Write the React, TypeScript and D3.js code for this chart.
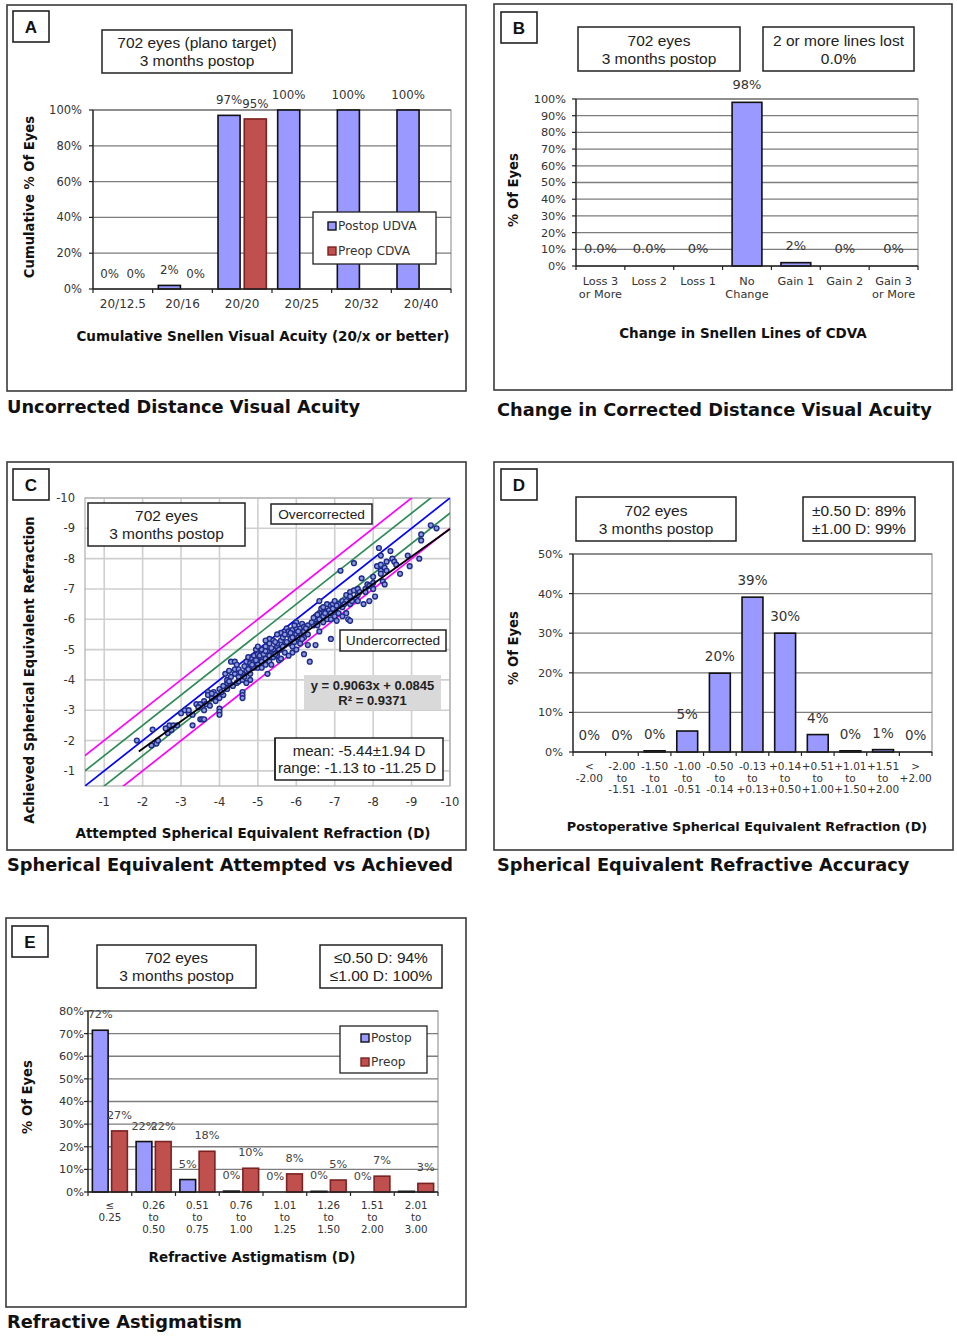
import React from "react";
import * as d3 from "d3";

const FV = "'DejaVu Sans', Verdana, sans-serif";
const FA = "'Liberation Sans', Arial, sans-serif";

const LAV = "#9999ff";
const RED = "#c0504d";
const RED_STROKE = "#7a2222";
const GRID = "#7d7d7d";
const TXT = "#333333";

// ---------- Panel A ----------
const aCategories = [["20/12.5"], ["20/16"], ["20/20"], ["20/25"], ["20/32"], ["20/40"]];
const aPostop: (number | null)[] = [0, 2, 97, 100, 100, 100];
const aPreop: (number | null)[] = [0, 0, 95, null, null, null];
const aPostopLabels: (string | null)[] = ["0%", "2%", "97%", "100%", "100%", "100%"];
const aPreopLabels: (string | null)[] = ["0%", "0%", "95%", null, null, null];
const aYTicks = [0, 20, 40, 60, 80, 100];

// ---------- Panel B ----------
const bCategories = [["Loss 3", "or More"], ["Loss 2"], ["Loss 1"], ["No", "Change"], ["Gain 1"], ["Gain 2"], ["Gain 3", "or More"]];
const bValues: (number | null)[] = [0, 0, 0, 98, 2, 0, 0];
const bLabels: (string | null)[] = ["0.0%", "0.0%", "0%", "98%", "2%", "0%", "0%"];
const bYTicks = [0, 10, 20, 30, 40, 50, 60, 70, 80, 90, 100];

// ---------- Panel C ----------
const cTicks = [-1, -2, -3, -4, -5, -6, -7, -8, -9, -10];
const cFitSlope = 0.9063;
const cFitIntercept = 0.0845;
const cFitRange = [-1.9, -10];
const cRefLines = [
  { offset: -1, color: "#ff00ff" },
  { offset: -0.5, color: "#2e8b57" },
  { offset: 0, color: "#0000ff" },
  { offset: 0.5, color: "#2e8b57" },
  { offset: 1, color: "#ff00ff" },
];
const cPoints: [number, number][] = [
  [-1.85, -2.0], [-2.26, -2.36], [-2.23, -1.84], [-2.36, -1.9], [-2.4, -2.0], [-2.6, -2.4], [-2.65, -2.25],
  [-2.7, -2.5], [-2.8, -2.5], [-2.9, -2.5], [-2.75, -2.35], [-3.0, -2.9], [-3.1, -3.0], [-3.2, -2.9],
  [-3.2, -3.0], [-3.3, -2.5], [-3.3, -2.85], [-3.4, -3.2], [-3.5, -2.7], [-3.5, -3.2], [-3.55, -2.7],
  [-3.6, -2.7], [-3.6, -3.3], [-3.6, -3.0], [-3.65, -3.2], [-3.7, -3.6], [-3.7, -3.5], [-3.75, -3.15],
  [-3.8, -3.4], [-3.85, -3.6], [-3.9, -3.3], [-3.9, -3.5], [-4.0, -3.05], [-4.0, -2.95], [-4.0, -2.85],
  [-4.0, -3.7], [-4.0, -3.4], [-4.1, -3.8], [-4.1, -3.5], [-4.15, -4.2], [-4.2, -3.9], [-4.2, -4.0],
  [-4.2, -3.7], [-4.3, -4.6], [-4.3, -4.1], [-4.3, -3.85], [-4.35, -3.8], [-4.4, -4.6], [-4.4, -4.2],
  [-4.4, -4.35], [-4.45, -3.9], [-4.45, -4.5], [-4.5, -4.35], [-4.5, -4.1], [-4.5, -3.95], [-4.6, -3.6],
  [-4.6, -3.5], [-4.6, -3.4], [-4.6, -4.2], [-4.6, -4.0], [-4.7, -4.5], [-4.7, -4.3], [-4.7, -4.6],
  [-4.75, -4.75], [-4.8, -4.4], [-4.8, -4.55], [-4.8, -4.2], [-4.8, -4.0], [-4.85, -4.7], [-4.9, -4.8],
  [-4.9, -4.4], [-4.9, -4.6], [-4.95, -5.0], [-5.0, -4.5], [-5.0, -4.7], [-5.0, -4.85], [-5.0, -4.4],
  [-5.1, -4.7], [-5.1, -4.6], [-5.1, -4.9], [-5.1, -4.4], [-5.1, -5.0], [-5.2, -4.7], [-5.2, -5.1],
  [-5.2, -4.5], [-5.25, -4.95], [-5.25, -4.2], [-5.3, -5.35], [-5.3, -4.8], [-5.3, -4.6], [-5.3, -5.2],
  [-5.4, -4.9], [-5.4, -5.0], [-5.4, -4.75], [-5.4, -5.3], [-5.5, -4.8], [-5.5, -5.1], [-5.5, -4.9],
  [-5.5, -5.2], [-5.55, -4.65], [-5.6, -5.0], [-5.6, -5.3], [-5.6, -4.7], [-5.6, -5.55], [-5.65, -5.4],
  [-5.7, -5.15], [-5.7, -4.9], [-5.75, -5.7], [-5.8, -5.2], [-5.8, -5.5], [-5.8, -5.6], [-5.85, -5.35],
  [-5.9, -4.9], [-5.9, -5.4], [-5.9, -5.65], [-5.9, -5.1], [-6.0, -5.5], [-6.0, -5.7], [-6.0, -5.3],
  [-6.0, -5.0], [-6.0, -5.9], [-6.1, -5.7], [-6.1, -5.5], [-6.1, -5.2], [-6.15, -5.85], [-6.2, -5.75],
  [-6.2, -4.85], [-6.2, -5.6], [-6.2, -5.4], [-6.3, -5.8], [-6.3, -5.5], [-6.35, -4.6], [-6.45, -5.8],
  [-6.5, -5.15], [-6.5, -5.95], [-6.5, -6.0], [-6.5, -6.1], [-6.55, -5.8], [-6.6, -6.6], [-6.6, -5.6],
  [-6.6, -6.2], [-6.6, -6.0], [-6.65, -6.35], [-6.7, -6.1], [-6.7, -6.4], [-6.7, -5.9], [-6.8, -6.25],
  [-6.8, -6.0], [-6.8, -6.5], [-6.85, -6.3], [-6.9, -5.35], [-6.9, -6.2], [-6.9, -6.45], [-6.9, -6.0],
  [-6.95, -6.5], [-7.0, -6.6], [-7.0, -6.3], [-7.0, -6.1], [-7.05, -5.95], [-7.1, -6.5], [-7.1, -6.2],
  [-7.15, -7.6], [-7.2, -6.1], [-7.2, -6.4], [-7.2, -6.6], [-7.3, -6.8], [-7.3, -6.6], [-7.3, -6.2],
  [-7.35, -6.0], [-7.4, -6.9], [-7.4, -5.95], [-7.4, -6.75], [-7.4, -6.5], [-7.5, -6.95], [-7.5, -7.85],
  [-7.55, -6.7], [-7.6, -6.6], [-7.6, -6.8], [-7.6, -7.0], [-7.7, -7.35], [-7.75, -6.5], [-7.8, -7.0],
  [-7.8, -6.9], [-7.85, -7.15], [-7.9, -6.6], [-8.0, -7.0], [-8.0, -7.2], [-8.0, -7.4], [-8.05, -6.75],
  [-8.1, -7.75], [-8.15, -8.35], [-8.2, -7.8], [-8.2, -8.1], [-8.2, -7.6], [-8.2, -7.5], [-8.25, -7.25],
  [-8.3, -7.15], [-8.3, -7.7], [-8.35, -7.9], [-8.35, -7.6], [-8.45, -8.25], [-8.5, -8.0], [-8.55, -7.9],
  [-8.6, -7.8], [-8.7, -7.5], [-8.9, -8.1], [-8.95, -7.75], [-9.2, -8.0], [-9.25, -8.8], [-9.25, -8.6],
  [-9.5, -9.1], [-9.65, -9.0],
  [-4.25, -4.3], [-4.55, -4.25], [-4.65, -4.45], [-4.75, -4.35], [-4.85, -4.5], [-4.95, -4.65], [-5.05, -4.8],
  [-5.15, -4.85], [-5.2, -4.95], [-5.35, -5.05], [-5.45, -4.85], [-5.45, -5.25], [-5.55, -5.0], [-5.65, -5.1],
  [-5.7, -5.5], [-5.75, -5.25], [-5.85, -5.55], [-5.95, -5.25], [-6.05, -5.6], [-6.05, -5.4], [-6.15, -5.35],
  [-6.25, -5.7], [-6.4, -5.9], [-6.45, -6.05], [-6.55, -6.15], [-6.75, -6.2], [-6.95, -6.35], [-7.05, -6.45],
  [-7.25, -6.5], [-7.45, -6.6], [-7.65, -6.9], [-7.9, -7.1], [-3.45, -3.1], [-3.8, -3.55], [-4.05, -3.6],
  [-4.25, -3.95], [-4.65, -4.1], [-4.7, -3.9], [-5.35, -4.5], [-5.8, -4.8], [-6.3, -5.15], [-5.0, -5.1],
  [-5.2, -5.3], [-5.5, -5.5], [-5.95, -5.8],
];

// ---------- Panel D ----------
const dCategories = [
  ["<", "-2.00"], ["-2.00", "to", "-1.51"], ["-1.50", "to", "-1.01"], ["-1.00", "to", "-0.51"],
  ["-0.50", "to", "-0.14"], ["-0.13", "to", "+0.13"], ["+0.14", "to", "+0.50"], ["+0.51", "to", "+1.00"],
  ["+1.01", "to", "+1.50"], ["+1.51", "to", "+2.00"], [">", "+2.00"],
];
const dValues: (number | null)[] = [0, 0, 0.3, 5.3, 19.9, 39.1, 30, 4.4, 0.3, 0.6, 0];
const dLabels: (string | null)[] = ["0%", "0%", "0%", "5%", "20%", "39%", "30%", "4%", "0%", "1%", "0%"];
const dYTicks = [0, 10, 20, 30, 40, 50];

// ---------- Panel E ----------
const eCategories = [
  ["≤", "0.25"], ["0.26", "to", "0.50"], ["0.51", "to", "0.75"], ["0.76", "to", "1.00"],
  ["1.01", "to", "1.25"], ["1.26", "to", "1.50"], ["1.51", "to", "2.00"], ["2.01", "to", "3.00"],
];
const ePostop: (number | null)[] = [71.5, 22.3, 5.5, 0.4, 0, 0.3, 0, 0.3];
const ePreop: (number | null)[] = [27, 22.3, 18, 10.5, 8, 5.3, 7, 3.8];
const ePostopLabels: (string | null)[] = ["72%", "22%", "5%", "0%", "0%", "0%", "0%", null];
const ePreopLabels: (string | null)[] = ["27%", "22%", "18%", "10%", "8%", "5%", "7%", "3%"];
const eYTicks = [0, 10, 20, 30, 40, 50, 60, 70, 80];

type Series = { values: (number | null)[]; labels: (string | null)[]; fill: string; stroke: string };

type BarProps = {
  left: number; right: number; top: number; bottom: number;
  yMax: number; yTicks: number[]; categories: string[][];
  series: Series[]; barFrac: number; gapFrac: number;
  labelSize: number; labelOffset: number; labelColor: string;
  tickSize: number; tickRight: number; catSize: number; catBaseline: number; catLineH: number;
};

function BarChart(p: BarProps) {
  const x = d3.scaleBand<number>().domain(p.categories.map((_, i) => i)).range([p.left, p.right]).padding(0);
  const y = d3.scaleLinear().domain([0, p.yMax]).range([p.bottom, p.top]);
  const gw = x.bandwidth();
  const bw = gw * p.barFrac;
  const gap = gw * p.gapFrac;
  const n = p.series.length;
  const pairW = n * bw + (n - 1) * gap;
  const barX = (i: number, s: number) => (x(i) as number) + gw / 2 - pairW / 2 + s * (bw + gap);
  const bounds = d3.range(p.categories.length + 1).map((i) => p.left + i * gw);
  return (
    <g>
      <rect x={p.left} y={p.top} width={p.right - p.left} height={p.bottom - p.top} fill="#fff" stroke="#9a9a9a" strokeWidth={1.2} />
      {p.yTicks.filter((t) => t > 0).map((t) => (
        <line key={"g" + t} x1={p.left} x2={p.right} y1={y(t)} y2={y(t)} stroke={GRID} strokeWidth={1.3} />
      ))}
      {p.series.map((s, si) =>
        s.values.map((v, i) =>
          v != null && v > 0 ? (
            <rect key={`b${si}-${i}`} x={barX(i, si)} y={y(v)} width={bw} height={p.bottom - y(v)}
              fill={s.fill} stroke={s.stroke} strokeWidth={1.6} />
          ) : null
        )
      )}
      <line x1={p.left} x2={p.left} y1={p.top} y2={p.bottom} stroke="#222" strokeWidth={1.3} />
      <line x1={p.left} x2={p.right} y1={p.bottom} y2={p.bottom} stroke="#222" strokeWidth={1.3} />
      {p.yTicks.map((t) => (
        <g key={"t" + t}>
          <line x1={p.left - 4} x2={p.left} y1={y(t)} y2={y(t)} stroke="#222" strokeWidth={1.2} />
          <text x={p.tickRight} y={y(t)} dy="0.35em" textAnchor="end" fontFamily={FV} fontSize={p.tickSize} fill={TXT}>{t}%</text>
        </g>
      ))}
      {bounds.map((b, i) => (
        <line key={"xb" + i} x1={b} x2={b} y1={p.bottom} y2={p.bottom + 4} stroke="#222" strokeWidth={1.2} />
      ))}
      {p.categories.map((lines, i) => (
        <text key={"c" + i} x={(x(i) as number) + gw / 2} y={p.catBaseline} textAnchor="middle" fontFamily={FV} fontSize={p.catSize} fill={TXT}>
          {lines.map((l, li) => (
            <tspan key={li} x={(x(i) as number) + gw / 2} y={p.catBaseline + li * p.catLineH}>{l}</tspan>
          ))}
        </text>
      ))}
      {p.series.map((s, si) =>
        s.labels.map((l, i) =>
          l != null ? (
            <text key={`l${si}-${i}`} x={barX(i, si) + bw / 2} y={y(s.values[i] ?? 0) - p.labelOffset} textAnchor="middle"
              fontFamily={FV} fontSize={p.labelSize} fill={p.labelColor}>{l}</text>
          ) : null
        )
      )}
    </g>
  );
}

function Frame({ x, y, w, h, letter, lx, ly }: { x: number; y: number; w: number; h: number; letter: string; lx: number; ly: number }) {
  return (
    <g>
      <rect x={x} y={y} width={w} height={h} fill="#fff" stroke="#3a3a3a" strokeWidth={1.6} />
      <rect x={lx} y={ly} width={36} height={31} fill="#fff" stroke="#222" strokeWidth={1.6} />
      <text x={lx + 18} y={ly + 16} dy="0.36em" textAnchor="middle" fontFamily={FA} fontWeight="bold" fontSize={17} fill="#111">{letter}</text>
    </g>
  );
}

function TextBox({ x, y, w, h, lines, size = 15.5, fill = "#fff", bold = false, font = FA, cx, lineGap = 18 }: any) {
  const mid = cx ?? x + w / 2;
  const startY = y + h / 2 - ((lines.length - 1) * lineGap) / 2;
  return (
    <g>
      <rect x={x} y={y} width={w} height={h} fill={fill} stroke={fill === "#fff" ? "#222" : "none"} strokeWidth={1.5} />
      {lines.map((l: string, i: number) => (
        <text key={i} x={mid} y={startY + i * lineGap} dy="0.36em" textAnchor="middle" fontFamily={font}
          fontWeight={bold ? "bold" : "normal"} fontSize={size} fill="#222">{l}</text>
      ))}
    </g>
  );
}

function YTitle({ x, y, text, size = 13.2 }: { x: number; y: number; text: string; size?: number }) {
  return (
    <text transform={`translate(${x},${y}) rotate(-90)`} dy="0.36em" textAnchor="middle" fontFamily={FV} fontWeight="bold" fontSize={size} fill="#111">{text}</text>
  );
}

function XTitle({ x, y, text, size = 13.5 }: { x: number; y: number; text: string; size?: number }) {
  return <text x={x} y={y} textAnchor="middle" fontFamily={FV} fontWeight="bold" fontSize={size} fill="#111">{text}</text>;
}

function Caption({ x, y, text }: { x: number; y: number; text: string }) {
  return <text x={x} y={y} fontFamily={FV} fontWeight="bold" fontSize={17.8} fill="#111">{text}</text>;
}

function Legend({ x, y, w, h, items, swX, rowYs }: any) {
  return (
    <g>
      <rect x={x} y={y} width={w} height={h} fill="#fff" stroke="#222" strokeWidth={1.3} />
      {items.map((it: any, i: number) => (
        <g key={i}>
          <rect x={swX} y={rowYs[i] - 4} width={8} height={8} fill={it.fill} stroke={it.stroke} strokeWidth={1.4} />
          <text x={swX + 10} y={rowYs[i]} dy="0.36em" fontFamily={FV} fontSize={12.2} fill={TXT}>{it.label}</text>
        </g>
      ))}
    </g>
  );
}

function ScatterC() {
  const L = 85, R = 450, T = 498, B = 786;
  const x = d3.scaleLinear().domain([-0.5, -10]).range([L, R]);
  const y = d3.scaleLinear().domain([-0.5, -10]).range([B, T]);
  const line = d3.line<[number, number]>().x((d) => x(d[0])).y((d) => y(d[1]));
  return (
    <g>
      <defs>
        <clipPath id="cclip"><rect x={L} y={T} width={R - L} height={B - T} /></clipPath>
      </defs>
      <rect x={L} y={T} width={R - L} height={B - T} fill="#fff" />
      {cTicks.map((t) => (
        <g key={t}>
          <line x1={x(t)} x2={x(t)} y1={T} y2={B} stroke="#cfcfcf" strokeWidth={1.6} />
          <line x1={L} x2={R} y1={y(t)} y2={y(t)} stroke="#cfcfcf" strokeWidth={1.6} />
        </g>
      ))}
      <rect x={L} y={T} width={R - L} height={B - T} fill="none" stroke="#b0b0b0" strokeWidth={1.2} />
      <g clipPath="url(#cclip)">
        {cRefLines.map((r, i) => (
          <path key={i} d={line([[-0.5, -0.5 + r.offset], [-11, -11 + r.offset]]) as string} stroke={r.color} strokeWidth={1.7} fill="none" />
        ))}
      </g>
      {cPoints.map((p, i) => (
        <circle key={i} cx={x(p[0])} cy={y(p[1])} r={2.4} fill="#8c9be0" stroke="#1f2b88" strokeWidth={1.4} />
      ))}
      <path d={line(cFitRange.map((v) => [v, cFitSlope * v + cFitIntercept] as [number, number])) as string} stroke="#000" strokeWidth={1.8} fill="none" />
      {cTicks.map((t) => (
        <g key={"l" + t}>
          <text x={L - 10} y={y(t)} dy="0.35em" textAnchor="end" fontFamily={FV} fontSize={11.5} fill={TXT}>{t}</text>
          <text x={x(t)} y={B + 20} textAnchor="middle" fontFamily={FV} fontSize={11.5} fill={TXT}>{t}</text>
        </g>
      ))}
      <TextBox x={88} y={503} w={157} h={43} lines={["702 eyes", "3 months postop"]} />
      <TextBox x={271} y={504} w={101} h={20} lines={["Overcorrected"]} size={13.7} />
      <TextBox x={340} y={630} w={106} h={21} lines={["Undercorrected"]} size={13.7} />
      <TextBox x={304} y={675} w={137} h={35} lines={["y = 0.9063x + 0.0845", "R² = 0.9371"]} size={13} bold fill="#d9d9d9" lineGap={15} />
      <rect x={275} y={738} width={168} height={42} fill="#fff" stroke="#222" strokeWidth={1.5} />
      <text x={359} y={751} dy="0.36em" textAnchor="middle" fontFamily={FA} fontSize={15} fill="#222">mean: -5.44±1.94 D</text>
      <text x={357} y={768} dy="0.36em" textAnchor="middle" fontFamily={FA} fontSize={15} fill="#222">range: -1.13 to -11.25 D</text>
      <line x1={275} x2={275} y1={738} y2={780} stroke="#222" strokeWidth={1.5} />
    </g>
  );
}

export default function App() {
  return (
    <div style={{ position: "absolute", left: 0, top: 0 }}>
      <svg width={957} height={1338} viewBox="0 0 957 1338" style={{ display: "block", background: "#fff" }}>
        <rect width={957} height={1338} fill="#fff" />

        {/* Panel A */}
        <Frame x={7} y={5} w={459} h={386} letter="A" lx={13} ly={11} />
        <TextBox x={102} y={30} w={190} h={43} lines={["702 eyes (plano target)", "3 months postop"]} />
        <BarChart left={93} right={451} top={110} bottom={289} yMax={100} yTicks={aYTicks} categories={aCategories}
          series={[
            { values: aPostop, labels: aPostopLabels, fill: LAV, stroke: "#111" },
            { values: aPreop, labels: aPreopLabels, fill: RED, stroke: RED_STROKE },
          ]}
          barFrac={0.37} gapFrac={0.07} labelSize={11.8} labelOffset={11} labelColor={TXT}
          tickSize={11.5} tickRight={82} catSize={12} catBaseline={308} catLineH={13} />
        <Legend x={313} y={212} w={123} h={52} swX={328} rowYs={[226, 251]}
          items={[{ label: "Postop UDVA", fill: LAV, stroke: "#111" }, { label: "Preop CDVA", fill: RED, stroke: RED_STROKE }]} />
        <YTitle x={29} y={197} text="Cumulative % Of Eyes" />
        <XTitle x={263} y={341} text="Cumulative Snellen Visual Acuity (20/x or better)" />
        <Caption x={7} y={413} text="Uncorrected Distance Visual Acuity" />

        {/* Panel B */}
        <Frame x={494} y={4} w={458} h={386} letter="B" lx={501} ly={12} />
        <TextBox x={578} y={27} w={162} h={44} lines={["702 eyes", "3 months postop"]} />
        <TextBox x={763} y={27} w={151} h={44} lines={["2 or more lines lost", "0.0%"]} />
        <BarChart left={576} right={918} top={99} bottom={266} yMax={100} yTicks={bYTicks} categories={bCategories}
          series={[{ values: bValues, labels: bLabels, fill: LAV, stroke: "#111" }]}
          barFrac={0.61} gapFrac={0} labelSize={13} labelOffset={13} labelColor={TXT}
          tickSize={11.3} tickRight={566} catSize={11.3} catBaseline={285} catLineH={13} />
        <YTitle x={513} y={190} text="% Of Eyes" />
        <XTitle x={743} y={338} text="Change in Snellen Lines of CDVA" />
        <Caption x={497} y={416} text="Change in Corrected Distance Visual Acuity" />

        {/* Panel C */}
        <Frame x={7} y={462} w={459} h={388} letter="C" lx={13} ly={469} />
        <ScatterC />
        <YTitle x={29} y={670} text="Achieved Spherical Equivalent Refraction" />
        <XTitle x={253} y={838} text="Attempted Spherical Equivalent Refraction (D)" />
        <Caption x={7} y={871} text="Spherical Equivalent Attempted vs Achieved" />

        {/* Panel D */}
        <Frame x={494} y={462} w={459} h={388} letter="D" lx={501} ly={469} />
        <TextBox x={576} y={497} w={160} h={44} lines={["702 eyes", "3 months postop"]} />
        <TextBox x={803} y={497} w={112} h={44} lines={["±0.50 D: 89%", "±1.00 D: 99%"]} />
        <BarChart left={573} right={932} top={554} bottom={752} yMax={50} yTicks={dYTicks} categories={dCategories}
          series={[{ values: dValues, labels: dLabels, fill: LAV, stroke: "#111" }]}
          barFrac={0.64} gapFrac={0} labelSize={13.5} labelOffset={12} labelColor={TXT}
          tickSize={11.3} tickRight={563} catSize={10.5} catBaseline={770} catLineH={11.7} />
        <YTitle x={513} y={648} text="% Of Eyes" />
        <XTitle x={747} y={831} text="Postoperative Spherical Equivalent Refraction (D)" size={12.8} />
        <Caption x={497} y={871} text="Spherical Equivalent Refractive Accuracy" />

        {/* Panel E */}
        <Frame x={6} y={918} w={460} h={389} letter="E" lx={12} ly={926} />
        <TextBox x={97} y={945} w={159} h={43} lines={["702 eyes", "3 months postop"]} />
        <TextBox x={320} y={945} w={122} h={43} lines={["≤0.50 D: 94%", "≤1.00 D: 100%"]} />
        <BarChart left={88} right={438} top={1011} bottom={1192} yMax={80} yTicks={eYTicks} categories={eCategories}
          series={[
            { values: ePostop, labels: ePostopLabels, fill: LAV, stroke: "#111" },
            { values: ePreop, labels: ePreopLabels, fill: RED, stroke: RED_STROKE },
          ]}
          barFrac={0.36} gapFrac={0.08} labelSize={11.3} labelOffset={12} labelColor="#444"
          tickSize={11.3} tickRight={84} catSize={10.3} catBaseline={1209} catLineH={12} />
        <Legend x={340} y={1026} w={87} h={47} swX={361} rowYs={[1038, 1062]}
          items={[{ label: "Postop", fill: LAV, stroke: "#111" }, { label: "Preop", fill: RED, stroke: RED_STROKE }]} />
        <YTitle x={27} y={1097} text="% Of Eyes" />
        <XTitle x={252} y={1262} text="Refractive Astigmatism (D)" />
        <Caption x={7} y={1328} text="Refractive Astigmatism" />
      </svg>
    </div>
  );
}
